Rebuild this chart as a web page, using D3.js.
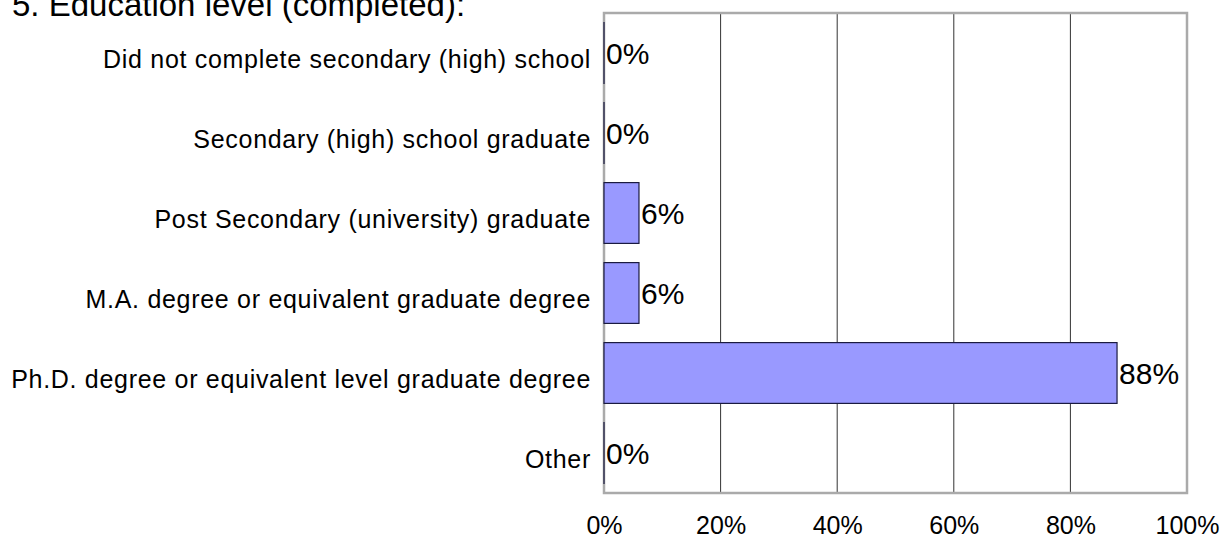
<!DOCTYPE html>
<html>
<head>
<meta charset="utf-8">
<script src="https://cdn.jsdelivr.net/npm/d3@7"></script>
<style>
  body { margin: 0; background: #fff; }
  text { font-family: "Liberation Sans", Arial, sans-serif; fill: #000; }
</style>
</head>
<body>
<div id="chart"></div>
<script>
// chart data
var categories = [
    "Did not complete secondary (high) school",
    "Secondary (high) school graduate",
    "Post Secondary (university) graduate",
    "M.A. degree or equivalent graduate degree",
    "Ph.D. degree or equivalent level graduate degree",
    "Other"
];
var percents = [0, 0, 6, 6, 88, 0];
var tickValues = [0, 20, 40, 60, 80, 100];
var title = "5. Education level (completed):";

// set the dimensions and margins of the graph
var margin = {top: 13, right: 38, bottom: 46, left: 604},
    width = 1225 - margin.left - margin.right,
    height = 539 - margin.top - margin.bottom;

var svg = d3.select("#chart")
    .append("svg")
    .attr("width", 1225)
    .attr("height", 539);

// title, partly cut off at the top
svg.append("text")
    .attr("x", 12)
    .attr("y", 16)
    .style("font-size", "33px")
    .text(title);

var g = svg.append("g")
    .attr("transform", "translate(" + margin.left + "," + margin.top + ")");

var x = d3.scaleLinear()
    .domain([0, 100])
    .range([0, width]);

var y = d3.scaleBand()
    .domain(categories)
    .range([0, height])
    .paddingInner(0.24)
    .paddingOuter(0.12);

// vertical gridlines
g.selectAll(".grid")
    .data(tickValues.slice(1, -1))
    .enter().append("line")
    .attr("x1", function(d) { return x(d); })
    .attr("x2", function(d) { return x(d); })
    .attr("y1", 0)
    .attr("y2", height)
    .attr("stroke", "#333")
    .attr("stroke-width", 1);

// plot frame
g.append("rect")
    .attr("x", 0)
    .attr("y", 0)
    .attr("width", width)
    .attr("height", height)
    .attr("fill", "none")
    .attr("stroke", "#aaa")
    .attr("stroke-width", 2.5);

// bars (zero values still show their outline as a thin line)
g.selectAll(".bar")
    .data(percents)
    .enter().append("rect")
    .attr("x", x(0))
    .attr("y", function(d, i) { return y(categories[i]); })
    .attr("width", function(d) { return Math.max(x(d) - x(0), 0.01); })
    .attr("height", y.bandwidth())
    .attr("fill", "#9999ff")
    .attr("stroke", "#1a1a40")
    .attr("stroke-width", 1.2);

// value labels
g.selectAll(".val")
    .data(percents)
    .enter().append("text")
    .attr("x", function(d) { return x(d) + 2; })
    .attr("y", function(d, i) { return y(categories[i]) + y.bandwidth() / 2; })
    .attr("dy", "0.36em")
    .style("font-size", "30px")
    .text(function(d) { return d + "%"; });

// category labels
g.selectAll(".cat")
    .data(categories)
    .enter().append("text")
    .attr("x", -13)
    .attr("y", function(d) { return y(d) + y.bandwidth() / 2; })
    .attr("dy", "0.6em")
    .attr("text-anchor", "end")
    .style("font-size", "25px")
    .style("letter-spacing", "0.7px")
    .text(function(d) { return d; });

// x axis tick labels
var xAxis = g.append("g")
    .attr("transform", "translate(0," + height + ")")
    .call(d3.axisBottom(x)
        .tickValues(tickValues)
        .tickSize(0)
        .tickPadding(23)
        .tickFormat(function(d) { return d + "%"; }));
xAxis.select(".domain").remove();
xAxis.selectAll("text")
    .style("font-size", "25px")
    .style("font-family", "\"Liberation Sans\", Arial, sans-serif");
</script>
</body>
</html>
